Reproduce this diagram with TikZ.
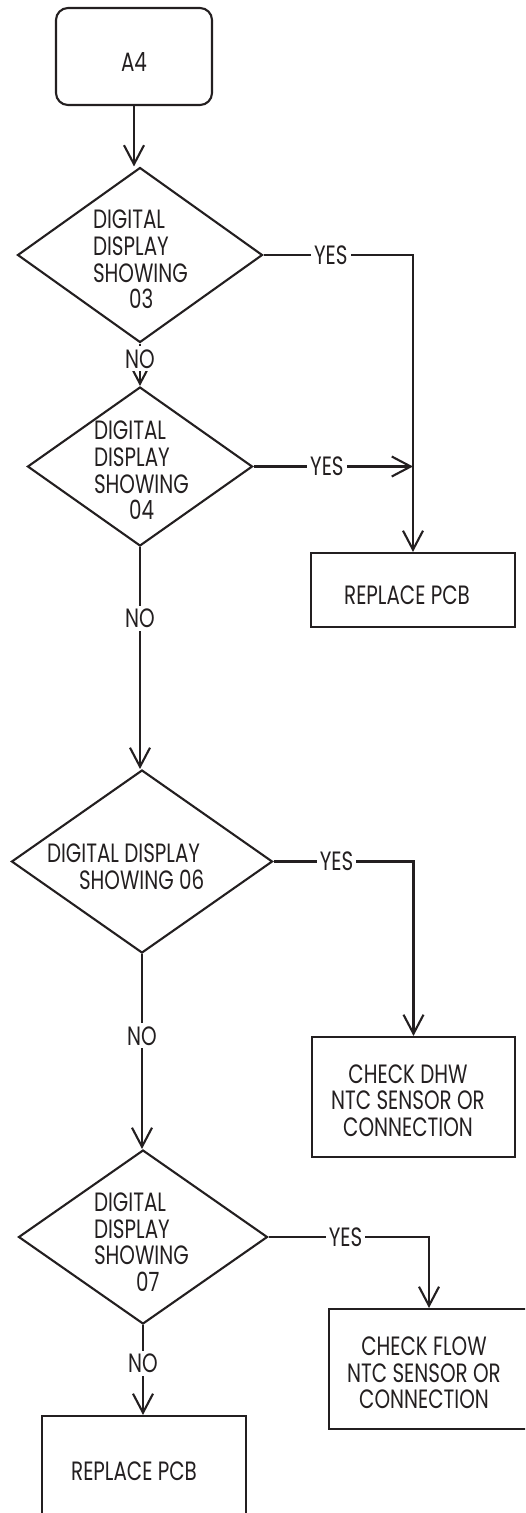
\documentclass[tikz,border=0pt]{standalone}
\usepackage{fontspec}
\setmainfont{Poppins}[FakeStretch=0.75]
\usetikzlibrary{shapes.geometric,arrows.meta}
\definecolor{ink}{HTML}{231F20}
\begin{document}
\begin{tikzpicture}[x=1pt,y=-1pt,
  line width=2.1pt, draw=ink,
  every node/.style={font=\fontsize{26.5}{26.7}\selectfont, text=ink},
  dia/.style={draw=ink, shape=diamond, inner sep=0pt},
  box/.style={draw=ink, rectangle, inner sep=0pt},
  txt/.style={inner sep=0pt},
  lbl/.style={fill=white, inner xsep=3pt, inner ysep=3pt},
  arr/.style={-{Straight Barb[length=19pt,width=20pt]}},
]
\useasboundingbox (0,0) rectangle (525,1513);
\clip (0,0) rectangle (525,1513);
% shapes
\node[draw=ink, rounded corners=12pt, minimum width=156pt, minimum height=97pt] (a4) at (134,56.5) {};
\node[txt] (a4t) at (134,62.5) {A4};
\node[dia, minimum width=245pt, minimum height=175pt] (d1) at (140,255) {};
\node[txt, align=left, anchor=west] (d1t) at (92,259.5) {DIGITAL\\DISPLAY\\SHOWING\\\hspace*{36pt}03};
\node[dia, minimum width=225pt, minimum height=159pt] (d2) at (140,466.5) {};
\node[txt, align=left, anchor=west] (d2t) at (93,470.5) {DIGITAL\\DISPLAY\\SHOWING\\\hspace*{35pt}04};
\node[box, minimum width=204pt, minimum height=74pt] (b1) at (413,590) {};
\node[txt] (b1t) at (407,595) {REPLACE PCB};
\node[dia, minimum width=261pt, minimum height=183pt] (d3) at (142,861.5) {};
\node[txt, align=left, anchor=west] (d3t) at (46,866.5) {DIGITAL DISPLAY\\\hspace*{32pt}SHOWING 06};
\node[box, minimum width=203pt, minimum height=120pt] (b2) at (413.5,1097) {};
\node[txt, align=center] (b2t) at (408,1100.5) {CHECK DHW\\NTC SENSOR OR\\CONNECTION};
\node[dia, minimum width=249pt, minimum height=174pt] (d4) at (143,1237) {};
\node[txt, align=left, anchor=west] (d4t) at (93,1242) {DIGITAL\\DISPLAY\\SHOWING\\\hspace*{42pt}07};
\node[box, minimum width=200pt, minimum height=120pt] (b3) at (429,1369) {};
\node[txt, align=center] (b3t) at (424,1373) {CHECK FLOW\\NTC SENSOR OR\\CONNECTION};
\node[box, minimum width=204pt, minimum height=110pt] (b4) at (144,1471) {};
\node[txt] (b4t) at (134,1471) {REPLACE PCB};
% connectors
\draw[arr] (a4.south) -- (a4.south |- d1.north);
\draw[arr] (d1.south) -- (d1.south |- d2.north) node[lbl, pos=0.36] (no1) {NO};
\draw[arr] (d1.east) -- (b1.north |- d1.east) node[lbl, pos=0.45] (yes1) {YES} -- (b1.north);
\draw[arr] (d2.east) -- (b1.north |- d2.east) node[lbl, pos=0.46] (yes2) {YES};
\draw[arr] (d2.south) -- (d2.south |- d3.north) node[lbl, pos=0.32] (no2) {NO};
\draw[arr] (d3.east) -- (b2.north |- d3.east) node[lbl, pos=0.45] (yes3) {YES} -- (b2.north);
\draw[arr] (d3.south) -- (d3.south |- d4.north) node[lbl, pos=0.42] (no3) {NO};
\draw[arr] (d4.east) -- (b3.north |- d4.east) node[lbl, pos=0.48] (yes4) {YES} -- (b3.north);
\draw[arr] (d4.south) -- (d4.south |- b4.north) node[lbl, pos=0.43] (no4) {NO};
\end{tikzpicture}
\end{document}
